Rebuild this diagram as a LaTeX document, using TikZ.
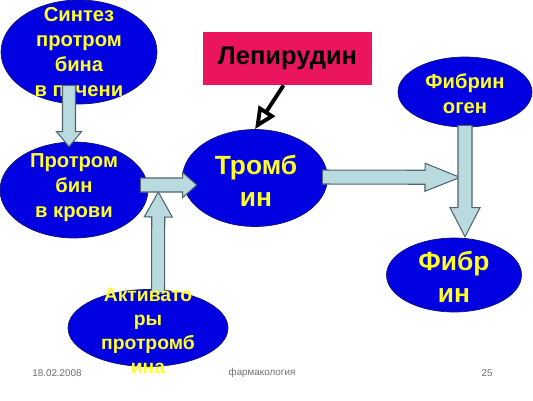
\documentclass[tikz,border=0pt]{standalone}
\usepackage{fontspec}
\setmainfont{Liberation Sans}
\usetikzlibrary{shapes.geometric, arrows.meta, positioning, calc}
\definecolor{bubbleColor}{RGB}{0,0,225}
\definecolor{bubbleEdge}{RGB}{20,20,110}
\definecolor{labelColor}{RGB}{255,255,40}
\definecolor{arrowFill}{RGB}{185,218,222}
\definecolor{arrowEdge}{RGB}{80,100,110}
\definecolor{drugColor}{RGB}{235,20,95}
\definecolor{footColor}{RGB}{110,110,110}
\tikzstyle{bubble} = [ellipse, draw=bubbleEdge, fill=bubbleColor, inner sep=0pt]
\tikzstyle{bubbletext} = [text=labelColor, font=\bfseries\fontsize{11.5}{14.2}\selectfont, align=center]
\tikzstyle{bigtext} = [bubbletext, font=\bfseries\fontsize{15}{18}\selectfont]
\tikzstyle{drug} = [rectangle, minimum width=3.38cm, minimum height=1.06cm, fill=drugColor, font=\bfseries\fontsize{14.5}{16}\selectfont, text centered]
\tikzstyle{block} = [draw=arrowEdge, fill=arrowFill, line width=0.6pt]
\tikzstyle{inhibit} = [line width=2.2pt, -{Triangle[length=0.44cm, width=0.38cm, fill=white]}]
\tikzstyle{footer} = [text=footColor, font=\fontsize{5.6}{6}\selectfont]
% block arrow: start, tip, half shaft, half head, head length
\newcommand{\blockarrow}[5]{%
  \coordinate (ba-base) at ($(#2)!#5!(#1)$);
  \draw[block] ($(#1)!#3!90:(#2)$) -- ($(ba-base)!#3!90:(#2)$) -- ($(ba-base)!#4!90:(#2)$) -- (#2)
    -- ($(ba-base)!#4!-90:(#2)$) -- ($(ba-base)!#3!-90:(#2)$) -- ($(#1)!#3!-90:(#2)$) -- cycle;}

\begin{document}
\begin{tikzpicture}[x=0.02cm, y=-0.02cm]
	\useasboundingbox (0,0) rectangle (533,400);
	% bubbles
	\node (synth) [bubble, minimum width=3.12cm, minimum height=2.08cm] at (79,52) {};
	\node (prot) [bubble, minimum width=2.96cm, minimum height=1.92cm] at (74,190) {};
	\node (thromb) [bubble, minimum width=2.9cm, minimum height=1.94cm] at (255,178) {};
	\node (fibgen) [bubble, minimum width=2.68cm, minimum height=1.4cm] at (465,92) {};
	\node (fibrin) [bubble, minimum width=2.7cm, minimum height=1.48cm] at (454,275) {};
	\node (activ) [bubble, minimum width=3.2cm, minimum height=1.54cm] at (148,328) {};
	\node (lep) [drug] at (287.5,58.5) {Лепирудин};
	
	\node (synth-t) [bubbletext] at (synth) {Синтез\\протром\\бина\\в печени};
	\node (prot-t) [bubbletext] at ([shift={(0,-2)}]prot.center) {Протром\\бин\\в крови};
	\node (thromb-t) [bigtext] at ([shift={(1,3)}]thromb.center) {Тромб\\ин};
	\node (fibgen-t) [bubbletext] at ([shift={(0,2)}]fibgen.center) {Фибрин\\оген};
	\node (fibrin-t) [bigtext] at ([shift={(0,2)}]fibrin.center) {Фибр\\ин};
	
	% arrows
	\coordinate (a-start) at ([shift={(-10,-19)}]synth.south);
	\coordinate (a-tip) at ([shift={(-5,5)}]prot.north);
	\coordinate (b-start) at ([shift={(-8,-5)}]prot.east);
	\coordinate (b-tip) at ([shift={(14.5,7)}]thromb.west);
	\coordinate (c-start) at ([shift={(10,3.5)}]activ.north);
	\coordinate (c-tip) at ([shift={(10,2)}]prot.east);
	\coordinate (d-start) at ([shift={(-5.5,-1)}]thromb.east);
	\coordinate (d-tip) at ([shift={(-5,50)}]fibgen.south);
	\coordinate (e-start) at ([shift={(0,-2)}]fibgen.south);
	\coordinate (e-tip) at ([shift={(11,-1)}]fibrin.north);
	\blockarrow{a-start}{a-tip}{0.13cm}{0.25cm}{0.3cm}
	\blockarrow{b-start}{b-tip}{0.14cm}{0.25cm}{0.28cm}
	\blockarrow{c-start}{c-tip}{0.13cm}{0.28cm}{0.5cm}
	\blockarrow{d-start}{d-tip}{0.14cm}{0.28cm}{0.7cm}
	\blockarrow{e-start}{e-tip}{0.14cm}{0.3cm}{0.58cm}
	
	\draw[inhibit] ([shift={(-4,0)}]lep.south) -- (thromb.north);
	
	\node (activ-t) [bubbletext, font=\bfseries\fontsize{11}{13.7}\selectfont] at ([shift={(0,3)}]activ.center) {Активато\\ры\\протромб\\ина};
	
	% footer
	\node (date) [footer] at (57,373) {18.02.2008};
	\node (subject) [footer] at (262,373) {фармакология};
	\node (page) [footer] at (487,373) {25};
\end{tikzpicture}
\end{document}
